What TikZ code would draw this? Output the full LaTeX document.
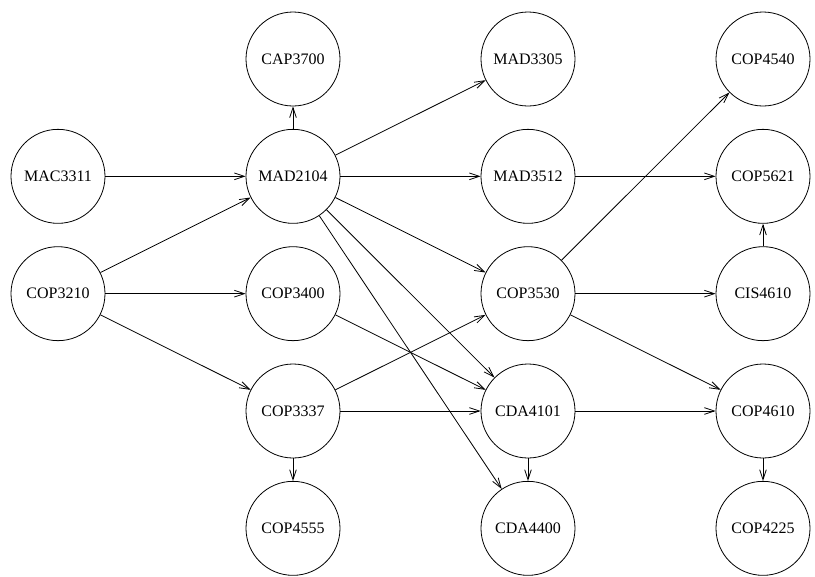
\documentclass[tikz,border=0pt]{standalone}
\usepackage{fontspec}
\setmainfont{Liberation Serif}
\usepackage{tikz}
\usetikzlibrary{arrows.meta}

\begin{document}
\begin{tikzpicture}[x=176.25pt,y=-88pt,
    course/.style={draw,circle,line width=0.6pt,minimum size=70.5pt,inner sep=0pt,font=\fontsize{12}{14}\selectfont},
    prereq/.style={-{Straight Barb[length=7.5pt,width=5pt]},line width=0.6pt}]
    \useasboundingbox (-43.5pt,44.25pt) rectangle (567.75pt,-387.75pt);

    % First column
    \node[course] (MAC3311) at (0,1) {MAC3311};
    \node[course] (COP3210) at (0,2) {COP3210};

    % Second column
    \node[course] (CAP3700) at (1,0) {CAP3700};
    \node[course] (MAD2104) at (1,1) {MAD2104};
    \node[course] (COP3400) at (1,2) {COP3400};
    \node[course] (COP3337) at (1,3) {COP3337};
    \node[course] (COP4555) at (1,4) {COP4555};

    % Third column
    \node[course] (MAD3305) at (2,0) {MAD3305};
    \node[course] (MAD3512) at (2,1) {MAD3512};
    \node[course] (COP3530) at (2,2) {COP3530};
    \node[course] (CDA4101) at (2,3) {CDA4101};
    \node[course] (CDA4400) at (2,4) {CDA4400};

    % Fourth column
    \node[course] (COP4540) at (3,0) {COP4540};
    \node[course] (COP5621) at (3,1) {COP5621};
    \node[course] (CIS4610) at (3,2) {CIS4610};
    \node[course] (COP4610) at (3,3) {COP4610};
    \node[course] (COP4225) at (3,4) {COP4225};

    % Prerequisites
    \draw[prereq] (MAC3311) -- (MAD2104);
    \draw[prereq] (COP3210) -- (MAD2104);
    \draw[prereq] (COP3210) -- (COP3400);
    \draw[prereq] (COP3210) -- (COP3337);
    \draw[prereq] (MAD2104) -- (CAP3700);
    \draw[prereq] (MAD2104) -- (MAD3305);
    \draw[prereq] (MAD2104) -- (MAD3512);
    \draw[prereq] (MAD2104) -- (COP3530);
    \draw[prereq] (MAD2104) -- (CDA4101);
    \draw[prereq] (MAD2104) -- (CDA4400);
    \draw[prereq] (COP3400) -- (CDA4101);
    \draw[prereq] (COP3337) -- (COP3530);
    \draw[prereq] (COP3337) -- (CDA4101);
    \draw[prereq] (COP3337) -- (COP4555);
    \draw[prereq] (MAD3512) -- (COP5621);
    \draw[prereq] (COP3530) -- (COP4540);
    \draw[prereq] (COP3530) -- (CIS4610);
    \draw[prereq] (COP3530) -- (COP4610);
    \draw[prereq] (CIS4610) -- (COP5621);
    \draw[prereq] (CDA4101) -- (COP4610);
    \draw[prereq] (CDA4101) -- (CDA4400);
    \draw[prereq] (COP4610) -- (COP4225);
\end{tikzpicture}
\end{document}
